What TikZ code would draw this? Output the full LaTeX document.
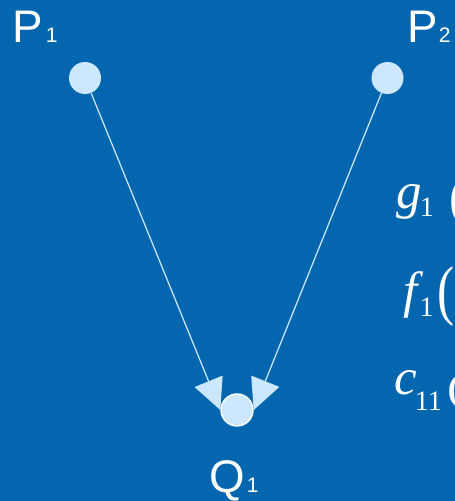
\documentclass[tikz,border=0pt]{standalone}
\usepackage{fontspec}
\setmainfont{Liberation Serif}
\newfontfamily\labelfont{Liberation Sans}
\newfontfamily\formfont{Liberation Serif}
\usepackage{graphicx}
\usetikzlibrary{arrows.meta,positioning}
\definecolor{slideBlue}{HTML}{0366AF}
\definecolor{ptFill}{HTML}{CCE8FF}
\pgfdeclarelayer{bg}
\pgfdeclarelayer{edges}
\pgfsetlayers{bg,edges,main}
\newcommand{\subsz}{\upshape\fontsize{16pt}{16pt}\selectfont}
\newcommand{\labsub}{\fontsize{12pt}{12pt}\selectfont}

\begin{document}
\begin{tikzpicture}[
  point/.style={circle, fill=ptFill, minimum size=0.64cm, inner sep=0pt},
  target/.style={point, draw=white, line width=0.8pt},
  ptlabel/.style={anchor=base west, inner sep=0pt, text=white, font=\labelfont\fontsize{26pt}{26pt}\selectfont},
  mathrow/.style={anchor=base west, inner sep=0pt, text=white, font=\formfont\fontsize{29pt}{29pt}\selectfont},
  link/.style={ptFill, line width=0.7pt, -{Triangle[length=0.62cm, width=0.6cm]}}
]
\useasboundingbox (0,0) rectangle (9.1,10.02);
\begin{pgfonlayer}{bg}
  \fill[slideBlue] (0,0) rectangle (9.1,10.02);
\end{pgfonlayer}

% Points
\node[point] (p1) at (1.70,8.46) {};
\node[point] (p2) at (7.75,8.46) {};
\node[target] (q1) at (4.74,1.82) {};

% Labels
\node[ptlabel] (p1lab) at (0.24,9.16) {P\kern0.06cm{\labsub 1}};
\node[ptlabel] (p2lab) at (8.14,9.16) {P\kern0.02cm{\labsub 2}};
\node[ptlabel] (q1lab) at (4.18,0.16) {Q\kern0.04cm{\labsub 1}};

% Formulas, cut by the right edge
\node[mathrow] (grow) at (7.92,5.85) {\itshape g\kern-0.04cm\raisebox{-0.16cm}{\subsz 1}\kern0.32cm\raisebox{-0.14cm}{\upshape\scalebox{1}[1.08]{(}}};
\node[mathrow] (frow) at (8.06,3.86) {\itshape f\kern0.04cm\raisebox{-0.18cm}{\subsz 1}\kern0.08cm\raisebox{-0.10cm}{\upshape\scalebox{1}[1.3]{(}}};
\node[mathrow] (crow) at (7.88,2.12) {\itshape c\kern-0.04cm\raisebox{-0.30cm}{\subsz 11}\kern0.10cm\raisebox{-0.12cm}{\upshape\scalebox{1}[0.8]{(}}};

% Connectors
\begin{pgfonlayer}{edges}
  \draw[link] (p1) -- (q1.west);
  \draw[link] (p2) -- (q1.east);
\end{pgfonlayer}
\end{tikzpicture}
\end{document}
